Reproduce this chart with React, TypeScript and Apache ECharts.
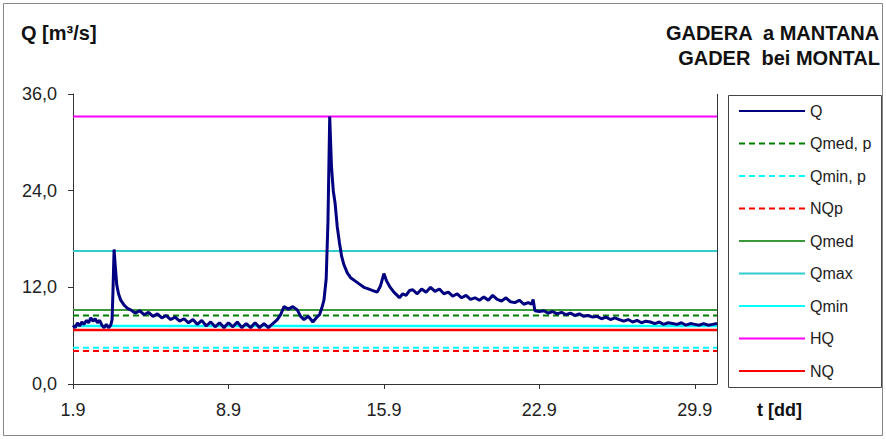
import React, { useEffect, useRef } from "react";
import * as echarts from "echarts";

const qDays = [
  0.0, 0.1, 0.2, 0.3, 0.4, 0.5, 0.6, 0.7, 0.8, 0.9,
  1.0, 1.1, 1.2, 1.3, 1.4, 1.5, 1.6, 1.7, 1.76, 1.8,
  1.85, 1.9, 1.97, 2.05, 2.15, 2.3, 2.45, 2.6, 2.8, 3.0,
  3.2, 3.4, 3.6, 3.8, 4.0, 4.2, 4.4, 4.6, 4.8, 5.0,
  5.2, 5.4, 5.6, 5.8, 6.0, 6.2, 6.4, 6.6, 6.8, 7.0,
  7.2, 7.4, 7.6, 7.8, 8.0, 8.2, 8.4, 8.6, 8.8, 9.0,
  9.2, 9.35, 9.5, 9.7, 9.9, 10.1, 10.25, 10.4, 10.6, 10.8,
  10.95, 11.1, 11.2, 11.3, 11.4, 11.48, 11.56, 11.64, 11.72, 11.8,
  11.9, 12.0, 12.1, 12.2, 12.35, 12.5, 12.7, 12.9, 13.1, 13.3,
  13.5, 13.7, 13.85, 14.0, 14.12, 14.26, 14.45, 14.6, 14.7, 14.85,
  15.0, 15.15, 15.3, 15.5, 15.7, 15.9, 16.1, 16.3, 16.5, 16.7,
  16.9, 17.1, 17.3, 17.5, 17.7, 17.9, 18.1, 18.3, 18.5, 18.7,
  18.9, 19.1, 19.3, 19.5, 19.7, 19.9, 20.1, 20.3, 20.5, 20.65,
  20.72, 20.8, 21.0, 21.2, 21.4, 21.6, 21.8, 22.0, 22.2, 22.4,
  22.6, 22.8, 23.0, 23.2, 23.4, 23.6, 23.8, 24.0, 24.2, 24.4,
  24.6, 24.8, 25.0, 25.2, 25.4, 25.6, 25.8, 26.0, 26.2, 26.4,
  26.6, 26.8, 27.0, 27.2, 27.4, 27.6, 27.8, 28.0, 28.2, 28.4,
  28.6, 28.8, 29.0,
];
const qValues = [
  7.3, 7.0, 7.6, 7.2, 7.7, 7.4, 7.9, 7.6, 8.2, 7.8,
  8.1, 7.6, 7.9, 7.3, 7.0, 7.4, 7.0, 7.3, 8.0, 11.5,
  16.7, 14.8, 12.3, 11.2, 10.4, 9.8, 9.4, 9.2, 8.8, 9.1,
  8.6, 8.9, 8.4, 8.7, 8.2, 8.5, 8.0, 8.3, 7.8, 8.1,
  7.6, 8.0, 7.4, 7.9, 7.2, 7.7, 7.1, 7.6, 7.0, 7.6,
  7.1, 7.7, 7.0, 7.5, 7.0, 7.6, 7.0, 7.5, 7.0, 7.5,
  8.0, 8.6, 9.6, 9.3, 9.6, 9.2, 8.4, 8.0, 8.4, 7.7,
  8.2, 8.6, 9.4, 10.4, 13.0, 20.0, 33.2, 27.0, 24.0, 22.5,
  19.5, 17.5, 15.8, 14.8, 13.8, 13.2, 12.8, 12.4, 12.0, 11.8,
  11.6, 11.4, 12.2, 13.7, 12.8, 12.1, 11.4, 11.0, 10.7, 11.2,
  11.0, 11.6, 11.7, 11.2, 11.8, 11.4, 12.0, 11.5, 11.8, 11.2,
  11.4, 10.9, 11.2, 10.7, 11.0, 10.5, 10.7, 10.4, 10.8, 10.4,
  11.0, 10.5, 10.3, 10.7, 10.2, 10.1, 10.4, 9.9, 10.1, 9.9,
  10.5, 9.1, 9.0, 9.1, 8.8, 9.0, 8.7, 8.9, 8.6, 8.8,
  8.5, 8.7, 8.4, 8.5, 8.3, 8.4, 8.1, 8.3, 8.0, 8.2,
  8.0, 7.8, 8.0, 7.7, 7.9, 7.6, 7.8, 7.7, 7.5, 7.7,
  7.4, 7.6, 7.5, 7.4, 7.6, 7.3, 7.5, 7.4, 7.3, 7.5,
  7.3, 7.4, 7.5,
];

// reference levels
const refNames = ["Qmed, p", "Qmin, p", "NQp", "Qmed", "Qmax", "Qmin", "HQ", "NQ"];
const refValues = [8.5, 4.5, 4.1, 9.2, 16.5, 7.2, 33.2, 6.7];
const refColors = ["#008000", "#00FFFF", "#FF0000", "#3A9A3A", "#33CCCC", "#00FFFF", "#FF00FF", "#FF0000"];
const refDashed = [true, true, true, false, false, false, false, false];
const refWidths = [2, 2, 2, 2, 2, 2.5, 2, 2.5];

const xTickLabels = ["1.9", "8.9", "15.9", "22.9", "29.9"];
const xMin = 0;
const xMax = 29;
const xInterval = 7;

const FONT = "'Liberation Sans', Arial, sans-serif";

export default function App() {
  const ref = useRef<HTMLDivElement>(null);
  useEffect(() => {
    if (!ref.current) return;
    const chart = echarts.init(ref.current, null, { renderer: "svg" });
    const qData = qDays.map((d, i) => [d, qValues[i]]);
    const refSeries = refNames.map((n, i) => ({
      name: n,
      type: "line",
      data: [
        [xMin, refValues[i]],
        [xMax, refValues[i]],
      ],
      symbol: "none",
      z: 1,
      lineStyle: {
        color: refColors[i],
        width: refWidths[i],
        type: refDashed[i] ? [6, 4] : "solid",
      },
      itemStyle: { color: refColors[i] },
    }));
    chart.setOption({
      animation: false,
      backgroundColor: "#fff",
      textStyle: { fontFamily: FONT },
      grid: { left: 73, top: 94, width: 644, height: 290 },
      xAxis: {
        type: "value",
        min: xMin,
        max: xMax,
        interval: xInterval,
        axisLine: { lineStyle: { color: "#333", width: 1 } },
        axisTick: { show: true, length: 5, lineStyle: { color: "#333" } },
        splitLine: { show: false },
        axisLabel: {
          fontSize: 18,
          color: "#222",
          margin: 17,
          fontFamily: FONT,
          showMaxLabel: false,
          formatter: (v: number) => xTickLabels[Math.round(v / xInterval)] ?? "",
        },
      },
      yAxis: {
        type: "value",
        min: 0,
        max: 36,
        interval: 12,
        axisLine: { show: true, lineStyle: { color: "#333", width: 1 } },
        axisTick: { show: true, length: 5, lineStyle: { color: "#333" } },
        splitLine: { show: false },
        axisLabel: {
          fontSize: 18,
          color: "#222",
          margin: 16,
          fontFamily: FONT,
          formatter: (v: number) => v.toFixed(1).replace(".", ","),
        },
      },
      legend: {
        orient: "vertical",
        left: 733,
        top: 97,
        itemWidth: 66,
        itemHeight: 14,
        itemGap: 14.5,
        itemStyle: { opacity: 0 },
        textStyle: { fontSize: 16, color: "#222", fontFamily: FONT, lineHeight: 18 },
        data: ["Q", ...refNames],
      },
      graphic: [
        {
          type: "rect",
          shape: { x: 3.5, y: 3.5, width: 879, height: 432 },
          style: { fill: "none", stroke: "#888", lineWidth: 1 },
          silent: true,
        },
        {
          type: "rect",
          shape: { x: 728.5, y: 95.5, width: 153, height: 292 },
          style: { fill: "none", stroke: "#444", lineWidth: 1 },
          silent: true,
        },
        {
          type: "line",
          shape: { x1: 717.5, y1: 94, x2: 717.5, y2: 384 },
          style: { stroke: "#333", lineWidth: 1 },
          silent: true,
        },
        {
          type: "text",
          left: 21,
          top: 23,
          style: {
            text: "Q [m³/s]",
            font: `bold 20px ${FONT}`,
            fill: "#111",
          },
        },
        {
          type: "text",
          right: 6,
          top: 23,
          style: {
            text: "GADERA  a MANTANA",
            font: `bold 20px ${FONT}`,
            fill: "#111",
            align: "right",
          },
        },
        {
          type: "text",
          right: 6,
          top: 48,
          style: {
            text: "GADER  bei MONTAL",
            font: `bold 20px ${FONT}`,
            fill: "#111",
            align: "right",
          },
        },
        {
          type: "text",
          left: 757,
          top: 401,
          style: {
            text: "t [dd]",
            font: `bold 18px ${FONT}`,
            fill: "#111",
          },
        },
      ],
      series: [
        {
          name: "Q",
          type: "line",
          data: qData,
          symbol: "none",
          z: 5,
          lineStyle: { color: "#000080", width: 3 },
          itemStyle: { color: "#000080" },
        },
        ...refSeries,
      ],
    });
    return () => chart.dispose();
  }, []);
  return <div ref={ref} style={{ width: 886, height: 439, position: "absolute", left: 0, top: 0 }} />;
}
